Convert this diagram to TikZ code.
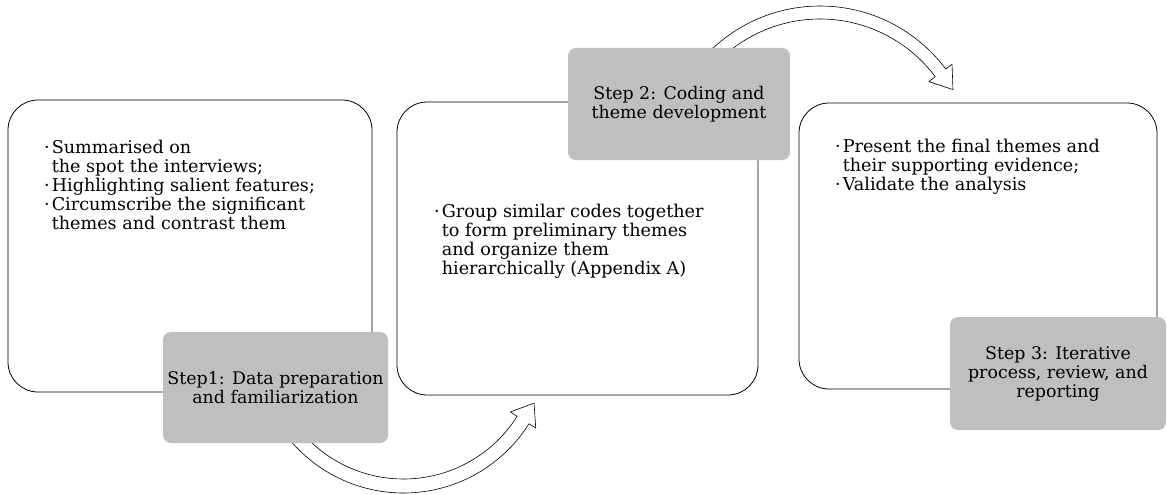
\documentclass[tikz,border=0pt]{standalone}
\usepackage{fontspec}
\setmainfont{DejaVu Serif}
\definecolor{stepgray}{HTML}{BFBFBF}
\newcommand{\bodysize}{\fontsize{17.6}{19.2}\selectfont}
\newcommand{\stepsize}{\fontsize{17.4}{19}\selectfont}

\begin{document}
\begin{tikzpicture}[
  x=1pt,
  y=-1pt,
  line join=round,
  panel/.style={draw=black,line width=0.8pt,rounded corners=30pt,fill=white,inner sep=0pt},
  stepbox/.style={fill=stepgray,rounded corners=8pt,align=center,inner sep=0pt,font=\stepsize},
  notes/.style={anchor=base west,inner sep=0pt,font=\bodysize},
  hollow/.style={draw=black,line width=0.6pt,fill=white}
]
  \useasboundingbox (0,0) rectangle (1167,495);

  % Three white panels, one per step.
  \node[panel,minimum width=364pt,minimum height=292pt] (prep) at (190,246) {};
  \node[panel,minimum width=361pt,minimum height=293pt] (code) at (577.5,248.5) {};
  \node[panel,minimum width=358pt,minimum height=286pt] (report) at (978,246) {};

  % Curved hollow arrows, their tails tucked under the grey step boxes.
  \coordinate (turnA) at (403.5,344.7);
  \coordinate (turnB) at (820,163);
  \path[hollow,shift={(turnA)}] (140:148.3) arc[start angle=140,end angle=32.2,radius=148.3]
    -- (32.2:156.3) -- (24.1:143) -- (32.2:126.3) -- (32.2:134.3)
    arc[start angle=32.2,end angle=140,radius=134.3] -- cycle;
  \path[hollow,shift={(turnB)}] (-135:157) arc[start angle=-135,end angle=-36.8,radius=157]
    -- (-36.8:164.9) -- (-28.9:151.9) -- (-36.8:135.9) -- (-36.8:144)
    arc[start angle=-36.8,end angle=-135,radius=144] -- cycle;

  % Grey step labels overlapping the panels.
  \node[stepbox,minimum width=225pt,minimum height=111pt] (step1) at (275.5,387.5)
    {Step1: Data preparation\\and familiarization};
  \node[stepbox,minimum width=222pt,minimum height=112pt] (step2) at (679,104)
    {Step 2: Coding and\\theme development};
  \node[stepbox,minimum width=216pt,minimum height=113pt] (step3) at (1058,373.5)
    {Step 3: Iterative\\process, review, and\\reporting};

  % Bullet notes inside the panels.
  \node[notes] (prepnotes) at (44,153) {\begin{tabular}[t]{@{}l@{\hspace{2pt}}l@{}}
    ·&Summarised on\\ &the spot the interviews;\\
    ·&Highlighting salient features;\\
    ·&Circumscribe the significant\\ &themes and contrast them\end{tabular}};
  \node[notes] (codenotes) at (434,217) {\begin{tabular}[t]{@{}l@{\hspace{2pt}}l@{}}
    ·&Group similar codes together\\ &to form preliminary themes\\
     &and organize them\\ &hierarchically (Appendix A)\end{tabular}};
  \node[notes] (reportnotes) at (835,152) {\begin{tabular}[t]{@{}l@{\hspace{2pt}}l@{}}
    ·&Present the final themes and\\ &their supporting evidence;\\
    ·&Validate the analysis\end{tabular}};
\end{tikzpicture}
\end{document}
